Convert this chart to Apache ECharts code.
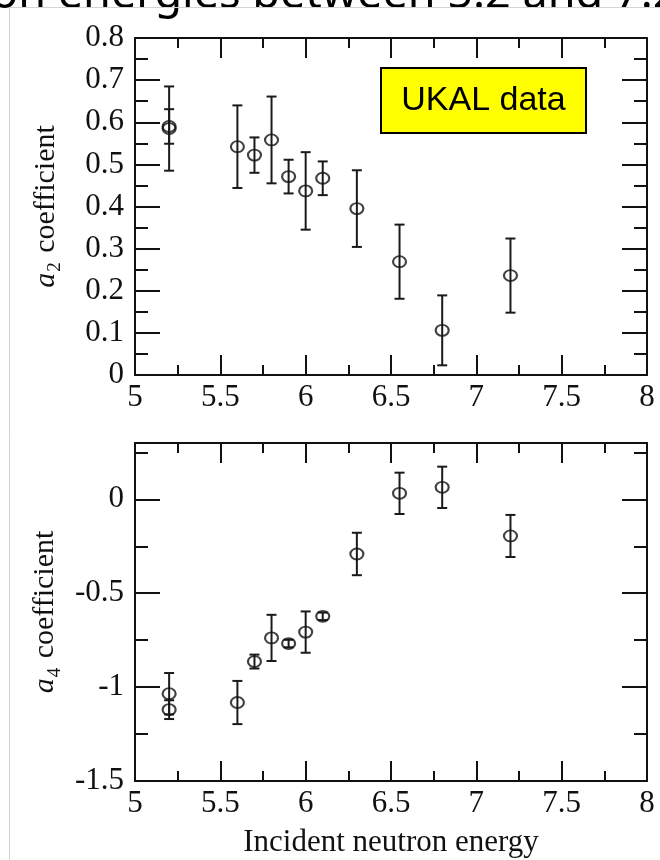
<!DOCTYPE html>
<html>
<head>
<meta charset="utf-8">
<script src="https://cdn.jsdelivr.net/npm/echarts@6/dist/echarts.min.js"></script>
<style>
  html, body { margin: 0; padding: 0; background: #fff; }
  #chart { width: 660px; height: 860px; }
</style>
</head>
<body>
<div id="chart"></div>
<script>
// Legendre coefficients of the angular distribution vs. incident neutron energy (MeV)
const a2Energy = [5.2, 5.2, 5.6, 5.7, 5.8, 5.9, 6.0, 6.1, 6.3, 6.55, 6.8, 7.2];
const a2Value  = [0.585, 0.59, 0.542, 0.522, 0.558, 0.471, 0.437, 0.467, 0.395, 0.269, 0.106, 0.236];
const a2Error  = [0.100, 0.041, 0.098, 0.042, 0.103, 0.040, 0.092, 0.040, 0.091, 0.088, 0.083, 0.088];

const a4Energy = [5.2, 5.2, 5.6, 5.7, 5.8, 5.9, 6.0, 6.1, 6.3, 6.55, 6.8, 7.2];
const a4Value  = [-1.035, -1.12, -1.082, -0.864, -0.738, -0.768, -0.707, -0.623, -0.291, 0.032, 0.064, -0.195];
const a4Error  = [0.110, 0.050, 0.115, 0.037, 0.123, 0.020, 0.110, 0.020, 0.113, 0.110, 0.110, 0.112];

// Axis ticks
const energyTicks      = [5, 5.5, 6, 6.5, 7, 7.5, 8];
const energyMinorTicks = [5.25, 5.75, 6.25, 6.75, 7.25, 7.75];
const a2Ticks          = [0, 0.1, 0.2, 0.3, 0.4, 0.5, 0.6, 0.7, 0.8];
const a2MinorTicks     = [0.05, 0.15, 0.25, 0.35, 0.45, 0.55, 0.65, 0.75];
const a4Ticks          = [-1.5, -1, -0.5, 0];
const a4MinorTicks     = [-1.25, -0.75, -0.25, 0.25];

const serif = '"Liberation Serif", "Times New Roman", serif';
const ink = '#111';
const frame = { show: true, onZero: false, lineStyle: { color: ink, width: 2 } };
const hidden = { show: false, onZero: false };

function rows(xs, ys, es) {
  return xs.map((x, i) => [x, ys[i], es[i]]);
}

// One set of framed axes: labelled main axis, plain mirror axis, and minor-tick overlays
function xAxes(grid, title) {
  const base = { type: 'value', gridIndex: grid, min: 5, max: 8, splitLine: { show: false } };
  const lab = {
    customValues: energyTicks, margin: 7,
    fontFamily: serif, fontSize: 31, color: ink, formatter: v => String(v)
  };
  const major = (pos, showLabel) => Object.assign({}, base, {
    position: pos, axisLine: frame,
    axisTick: { inside: true, length: 20, customValues: energyTicks, lineStyle: { color: ink, width: 2 } },
    axisLabel: showLabel ? lab : { show: false }
  });
  const minor = pos => Object.assign({}, base, {
    position: pos, axisLine: hidden,
    axisTick: { inside: true, length: 10, customValues: energyMinorTicks, lineStyle: { color: ink, width: 2 } },
    axisLabel: { show: false }
  });
  const main = major('bottom', true);
  if (title) {
    main.name = title;
    main.nameLocation = 'middle';
    main.nameGap = 46;
    main.nameTextStyle = { fontFamily: serif, fontSize: 31, color: ink };
  }
  return [main, major('top', false), minor('bottom'), minor('top')];
}

function yAxes(grid, min, max, ticks, minorTicks, sub) {
  const base = { type: 'value', gridIndex: grid, min: min, max: max, splitLine: { show: false } };
  const major = (pos, showLabel) => Object.assign({}, base, {
    position: pos, axisLine: frame,
    axisTick: { inside: true, length: 25, customValues: ticks, lineStyle: { color: ink, width: 2 } },
    axisLabel: showLabel ? {
      customValues: ticks, margin: 11, fontFamily: serif, fontSize: 31, color: ink,
      formatter: v => String(v)
    } : { show: false }
  });
  const minor = pos => Object.assign({}, base, {
    position: pos, axisLine: hidden,
    axisTick: { inside: true, length: 13, customValues: minorTicks, lineStyle: { color: ink, width: 2 } },
    axisLabel: { show: false }
  });
  const main = major('left', true);
  main.name = '{i|a}{s|' + sub + '} coefficient';
  main.nameLocation = 'middle';
  main.nameRotate = 90;
  main.nameGap = 70;
  main.nameTextStyle = {
    fontFamily: serif, fontSize: 30, color: ink,
    rich: {
      i: { fontFamily: serif, fontSize: 30, fontStyle: 'italic', color: ink },
      s: { fontFamily: serif, fontSize: 19, color: ink, padding: [18, 2, 0, 1] }
    }
  };
  return [main, major('right', false), minor('left'), minor('right')];
}

function errorBars(params, api) {
  const x = api.value(0), y = api.value(1), e = api.value(2);
  const hi = api.coord([x, y + e]);
  const lo = api.coord([x, y - e]);
  const hw = 5;
  const style = { stroke: '#1a1a1a', lineWidth: 2 };
  return {
    type: 'group',
    children: [
      { type: 'line', shape: { x1: hi[0], y1: hi[1], x2: lo[0], y2: lo[1] }, style: style },
      { type: 'line', shape: { x1: hi[0] - hw, y1: hi[1], x2: hi[0] + hw, y2: hi[1] }, style: style },
      { type: 'line', shape: { x1: lo[0] - hw, y1: lo[1], x2: lo[0] + hw, y2: lo[1] }, style: style }
    ]
  };
}

function panel(axisIndex, data) {
  return [
    {
      type: 'custom', xAxisIndex: axisIndex, yAxisIndex: axisIndex,
      renderItem: errorBars, data: data, encode: { x: 0, y: 1 },
      silent: true, z: 2
    },
    {
      type: 'scatter', xAxisIndex: axisIndex, yAxisIndex: axisIndex,
      data: data.map(r => [r[0], r[1]]),
      symbol: 'circle', symbolSize: [13, 11],
      itemStyle: { color: 'rgba(0,0,0,0)', borderColor: ink, borderWidth: 2 },
      silent: true, z: 3
    }
  ];
}

const chart = echarts.init(document.getElementById('chart'), null, { renderer: 'canvas' });

chart.setOption({
  animation: false,
  backgroundColor: '#fff',
  grid: [
    { left: 135, top: 38, width: 512, height: 337 },
    { left: 135, top: 443, width: 512, height: 338 }
  ],
  xAxis: [].concat(xAxes(0, null), xAxes(1, 'Incident neutron energy')),
  yAxis: [].concat(
    yAxes(0, 0, 0.8, a2Ticks, a2MinorTicks, '2'),
    yAxes(1, -1.5, 0.3, a4Ticks, a4MinorTicks, '4')
  ),
  series: [].concat(
    panel(0, rows(a2Energy, a2Value, a2Error)),
    panel(4, rows(a4Energy, a4Value, a4Error))
  ),
  graphic: [
    {
      type: 'text', left: -9, top: -27, silent: true,
      style: {
        text: 'on energies between 5.2 and 7.2',
        font: '45px "Noto Sans", sans-serif', fill: '#000'
      }
    },
    {
      type: 'line', silent: true,
      shape: { x1: 9.5, y1: 7.5, x2: 660, y2: 7.5 },
      style: { stroke: '#d4d4d4', lineWidth: 1 }
    },
    {
      type: 'line', silent: true,
      shape: { x1: 9.5, y1: 7.5, x2: 9.5, y2: 860 },
      style: { stroke: '#d4d4d4', lineWidth: 1 }
    },
    {
      type: 'group', left: 380, top: 67, silent: true,
      children: [
        {
          type: 'rect', shape: { x: 0, y: 0, width: 205, height: 65 },
          style: { fill: '#ffff00', stroke: '#000', lineWidth: 2 }
        },
        {
          type: 'text', x: 102.5, y: 33,
          style: {
            text: 'UKAL data', font: '34px "Liberation Sans", Arial, sans-serif',
            fill: '#000', align: 'center', verticalAlign: 'middle'
          }
        }
      ]
    }
  ]
});
</script>
</body>
</html>
